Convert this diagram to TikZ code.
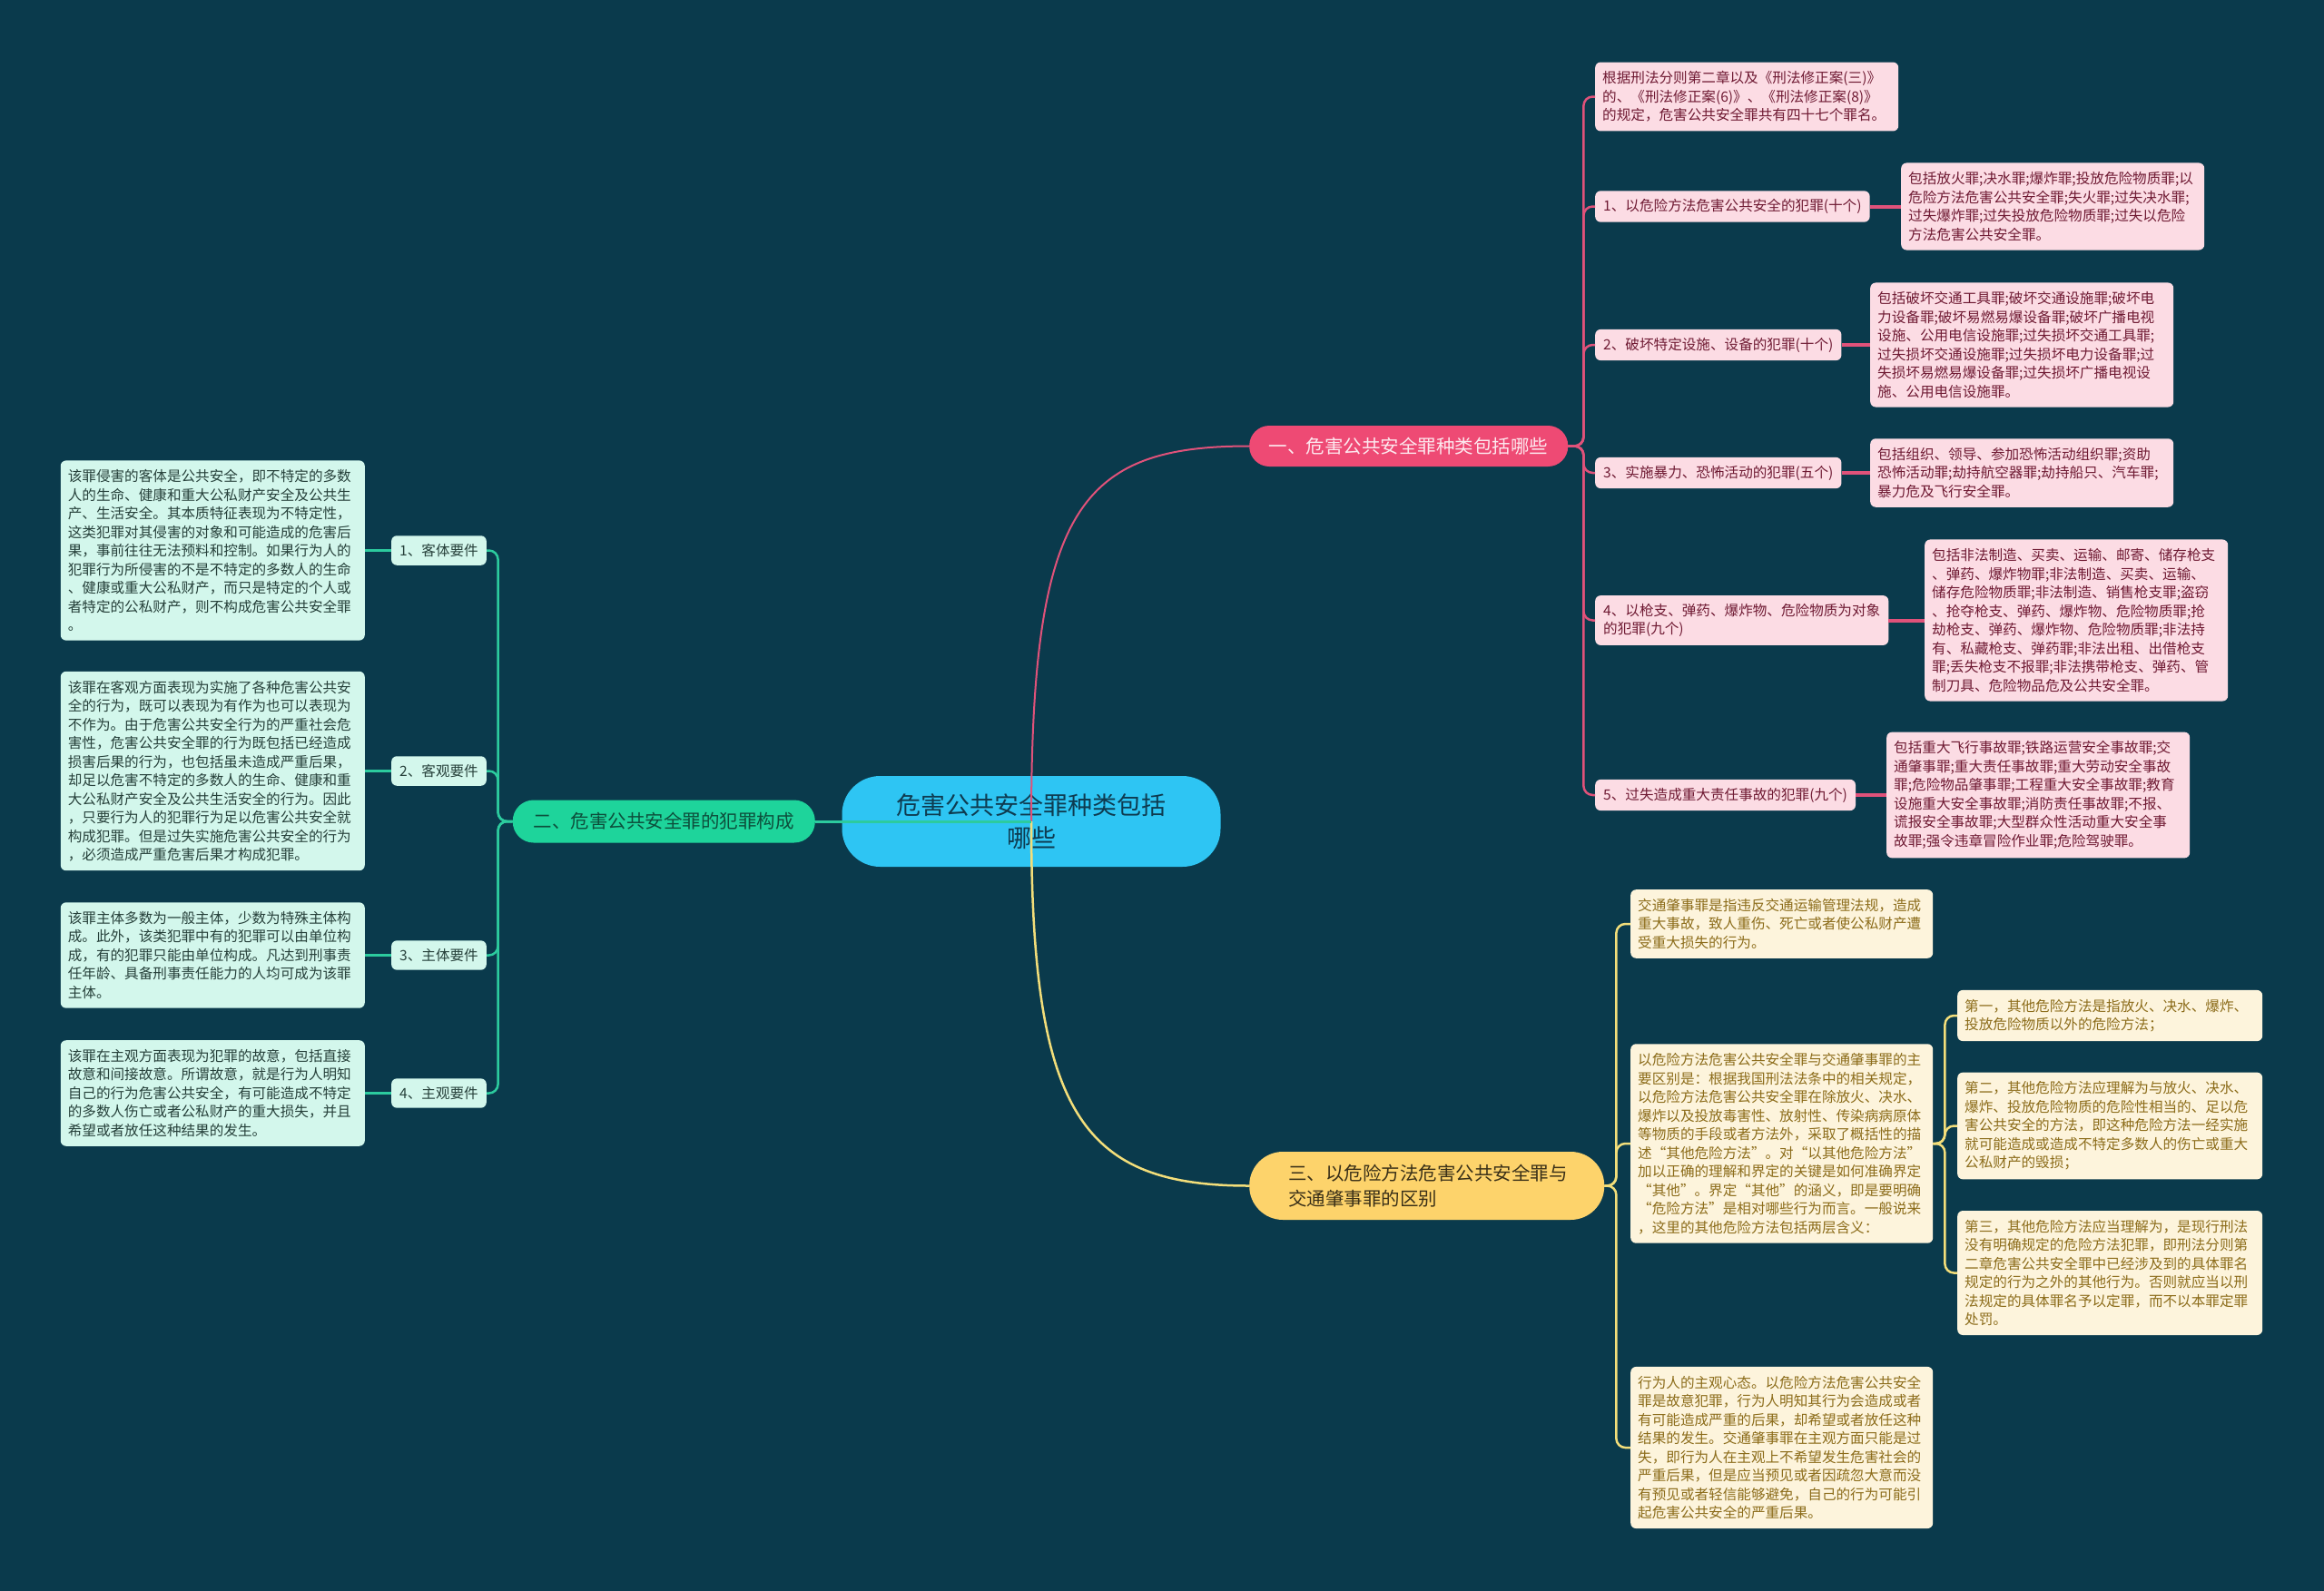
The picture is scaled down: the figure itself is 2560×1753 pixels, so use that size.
\documentclass[tikz,border=0pt]{standalone}
\usepackage{fontspec}
\setmainfont{Noto Sans CJK SC}
\definecolor{bg}{HTML}{0A3A4C}
\definecolor{cblue}{HTML}{2EC5F3}
\definecolor{ctext}{HTML}{0E3B50}
\definecolor{pinkb}{HTML}{EE4A74}
\definecolor{pinkbtext}{HTML}{FDE8EE}
\definecolor{pinkline}{HTML}{E0527A}
\definecolor{pinkfill}{HTML}{FCDCE4}
\definecolor{pinktext}{HTML}{6F1A33}
\definecolor{greenb}{HTML}{1ED49B}
\definecolor{greenbtext}{HTML}{0D4F3C}
\definecolor{greenline}{HTML}{2CCB9E}
\definecolor{greenfill}{HTML}{D3F7EC}
\definecolor{greentext}{HTML}{26403A}
\definecolor{yellowb}{HTML}{FDD36B}
\definecolor{ybtext}{HTML}{3A3018}
\definecolor{yellowline}{HTML}{F3DE7A}
\definecolor{yellowfill}{HTML}{FDF4DC}
\definecolor{yellowtext}{HTML}{8C6C1A}
\tikzset{
  leafbase/.style={rounded corners=6pt, align=left, font=\fontsize{15.6}{20.5}\selectfont, inner xsep=8pt, inner ysep=10pt},
  pleaf/.style={leafbase, fill=pinkfill, text=pinktext, text width=318pt},
  plabel/.style={leafbase, fill=pinkfill, text=pinktext, inner xsep=9pt, inner ysep=9pt},
  gleaf/.style={leafbase, fill=greenfill, text=greentext, text width=319pt},
  glabel/.style={leafbase, fill=greenfill, text=greentext, inner xsep=9pt, inner ysep=9pt},
  yleaf/.style={leafbase, fill=yellowfill, text=yellowtext, text width=317pt},
  yleafw/.style={leafbase, fill=yellowfill, text=yellowtext, text width=320pt},
  branchbox/.style={font=\fontsize{20.5}{28}\selectfont, inner xsep=20pt},
  pinkc/.style={draw=pinkline, line width=2.5pt},
  pinkthick/.style={draw=pinkline, line width=4pt},
  greenc/.style={draw=greenline, line width=2.5pt},
  greenthick/.style={draw=greenline, line width=3.5pt},
  yellowc/.style={draw=yellowline, line width=2.5pt},
}
\begin{document}
\begin{tikzpicture}[x=1pt,y=-1pt]
\path[fill=bg,use as bounding box] (0,0) rectangle (2560,1753);

% center
\node[fill=cblue, text=ctext, minimum width=417pt, minimum height=100pt, rounded corners=42pt, align=center, font=\fontsize{27}{36}\selectfont] (c) at (1136,905) {危害公共安全罪种类包括\\哪些};

% branches
\node[branchbox, fill=pinkb, text=pinkbtext, minimum width=351pt, minimum height=45pt, rounded corners=22pt, anchor=west] (b1) at (1376,491.5) {一、危害公共安全罪种类包括哪些};
\node[branchbox, fill=greenb, text=greenbtext, minimum width=333pt, minimum height=47pt, rounded corners=23pt, anchor=east] (b2) at (898,905) {二、危害公共安全罪的犯罪构成};
\node[branchbox, fill=yellowb, text=ybtext, align=left, text width=305pt, inner xsep=43pt, minimum height=75pt, rounded corners=37pt, anchor=west] (b3) at (1376,1306.5) {三、以危险方法危害公共安全罪与\\交通肇事罪的区别};

% pink children
\node[pleaf, anchor=west] (p0) at (1757,106.5) {根据刑法分则第二章以及《刑法修正案(三)》\\的、《刑法修正案(6)》、《刑法修正案(8)》\\的规定，危害公共安全罪共有四十七个罪名。};
\node[plabel, anchor=west] (p1) at (1757,227.5) {1、以危险方法危害公共安全的犯罪(十个)};
\node[plabel, anchor=west] (p2) at (1757,380) {2、破坏特定设施、设备的犯罪(十个)};
\node[plabel, anchor=west] (p3) at (1757,521) {3、实施暴力、恐怖活动的犯罪(五个)};
\node[plabel, anchor=west] (p4) at (1757,683.5) {4、以枪支、弹药、爆炸物、危险物质为对象\\的犯罪(九个)};
\node[plabel, anchor=west] (p5) at (1757,876) {5、过失造成重大责任事故的犯罪(九个)};

\node[pleaf, anchor=west] (l1) at (2094,227.5) {包括放火罪;决水罪;爆炸罪;投放危险物质罪;以\\危险方法危害公共安全罪;失火罪;过失决水罪;\\过失爆炸罪;过失投放危险物质罪;过失以危险\\方法危害公共安全罪。};
\node[pleaf, anchor=west] (l2) at (2060,380) {包括破坏交通工具罪;破坏交通设施罪;破坏电\\力设备罪;破坏易燃易爆设备罪;破坏广播电视\\设施、公用电信设施罪;过失损坏交通工具罪;\\过失损坏交通设施罪;过失损坏电力设备罪;过\\失损坏易燃易爆设备罪;过失损坏广播电视设\\施、公用电信设施罪。};
\node[pleaf, anchor=west] (l3) at (2060,521) {包括组织、领导、参加恐怖活动组织罪;资助\\恐怖活动罪;劫持航空器罪;劫持船只、汽车罪;\\暴力危及飞行安全罪。};
\node[pleaf, anchor=west] (l4) at (2120,683.5) {包括非法制造、买卖、运输、邮寄、储存枪支\\、弹药、爆炸物罪;非法制造、买卖、运输、\\储存危险物质罪;非法制造、销售枪支罪;盗窃\\、抢夺枪支、弹药、爆炸物、危险物质罪;抢\\劫枪支、弹药、爆炸物、危险物质罪;非法持\\有、私藏枪支、弹药罪;非法出租、出借枪支\\罪;丢失枪支不报罪;非法携带枪支、弹药、管\\制刀具、危险物品危及公共安全罪。};
\node[pleaf, anchor=west] (l5) at (2078,876) {包括重大飞行事故罪;铁路运营安全事故罪;交\\通肇事罪;重大责任事故罪;重大劳动安全事故\\罪;危险物品肇事罪;工程重大安全事故罪;教育\\设施重大安全事故罪;消防责任事故罪;不报、\\谎报安全事故罪;大型群众性活动重大安全事\\故罪;强令违章冒险作业罪;危险驾驶罪。};

% green children
\node[glabel, anchor=east] (g1) at (536,606.5) {1、客体要件};
\node[glabel, anchor=east] (g2) at (536,849.5) {2、客观要件};
\node[glabel, anchor=east] (g3) at (536,1052.5) {3、主体要件};
\node[glabel, anchor=east] (g4) at (536,1204.5) {4、主观要件};

\node[gleaf, anchor=east] (gl1) at (402,606.5) {该罪侵害的客体是公共安全，即不特定的多数\\人的生命、健康和重大公私财产安全及公共生\\产、生活安全。其本质特征表现为不特定性，\\这类犯罪对其侵害的对象和可能造成的危害后\\果，事前往往无法预料和控制。如果行为人的\\犯罪行为所侵害的不是不特定的多数人的生命\\、健康或重大公私财产，而只是特定的个人或\\者特定的公私财产，则不构成危害公共安全罪\\。};
\node[gleaf, anchor=east] (gl2) at (402,849.5) {该罪在客观方面表现为实施了各种危害公共安\\全的行为，既可以表现为有作为也可以表现为\\不作为。由于危害公共安全行为的严重社会危\\害性，危害公共安全罪的行为既包括已经造成\\损害后果的行为，也包括虽未造成严重后果，\\却足以危害不特定的多数人的生命、健康和重\\大公私财产安全及公共生活安全的行为。因此\\，只要行为人的犯罪行为足以危害公共安全就\\构成犯罪。但是过失实施危害公共安全的行为\\，必须造成严重危害后果才构成犯罪。};
\node[gleaf, anchor=east] (gl3) at (402,1052.5) {该罪主体多数为一般主体，少数为特殊主体构\\成。此外，该类犯罪中有的犯罪可以由单位构\\成，有的犯罪只能由单位构成。凡达到刑事责\\任年龄、具备刑事责任能力的人均可成为该罪\\主体。};
\node[gleaf, anchor=east] (gl4) at (402,1204.5) {该罪在主观方面表现为犯罪的故意，包括直接\\故意和间接故意。所谓故意，就是行为人明知\\自己的行为危害公共安全，有可能造成不特定\\的多数人伤亡或者公私财产的重大损失，并且\\希望或者放任这种结果的发生。};

% yellow children
\node[yleaf, anchor=west] (y1) at (1796,1018) {交通肇事罪是指违反交通运输管理法规，造成\\重大事故，致人重伤、死亡或者使公私财产遭\\受重大损失的行为。};
\node[yleaf, anchor=west] (y2) at (1796,1260) {以危险方法危害公共安全罪与交通肇事罪的主\\要区别是：根据我国刑法法条中的相关规定，\\以危险方法危害公共安全罪在除放火、决水、\\爆炸以及投放毒害性、放射性、传染病病原体\\等物质的手段或者方法外，采取了概括性的描\\述“其他危险方法”。对“以其他危险方法”\\加以正确的理解和界定的关键是如何准确界定\\“其他”。界定“其他”的涵义，即是要明确\\“危险方法”是相对哪些行为而言。一般说来\\，这里的其他危险方法包括两层含义：};
\node[yleaf, anchor=west] (y3) at (1796,1595) {行为人的主观心态。以危险方法危害公共安全\\罪是故意犯罪，行为人明知其行为会造成或者\\有可能造成严重的后果，却希望或者放任这种\\结果的发生。交通肇事罪在主观方面只能是过\\失，即行为人在主观上不希望发生危害社会的\\严重后果，但是应当预见或者因疏忽大意而没\\有预见或者轻信能够避免，自己的行为可能引\\起危害公共安全的严重后果。};

\node[yleafw, anchor=west] (yg1) at (2156,1119) {第一，其他危险方法是指放火、决水、爆炸、\\投放危险物质以外的危险方法；};
\node[yleafw, anchor=west] (yg2) at (2156,1240.5) {第二，其他危险方法应理解为与放火、决水、\\爆炸、投放危险物质的危险性相当的、足以危\\害公共安全的方法，即这种危险方法一经实施\\就可能造成或造成不特定多数人的伤亡或重大\\公私财产的毁损；};
\node[yleafw, anchor=west] (yg3) at (2156,1402.5) {第三，其他危险方法应当理解为，是现行刑法\\没有明确规定的危险方法犯罪，即刑法分则第\\二章危害公共安全罪中已经涉及到的具体罪名\\规定的行为之外的其他行为。否则就应当以刑\\法规定的具体罪名予以定罪，而不以本罪定罪\\处罚。};

% connectors from center
\draw[pinkc, line width=2pt] (c.center) .. controls +(0,-345) and +(-186,0) .. (b1.west);
\draw[yellowc] (c.center) .. controls +(0,320) and +(-186,0) .. (b3.west);
\draw[greenc, line width=3pt] (c.center) -- (b2.east);

% pink trunk
\foreach \n in {p0,p1,p2,p3,p4,p5}
  \draw[pinkc, rounded corners=10pt] (b1.east) -- ++(17,0) |- (\n.west);
\foreach \a/\b in {p1/l1,p2/l2,p3/l3,p4/l4,p5/l5}
  \draw[pinkthick] (\a.east) -- (\b.west);

% green trunk
\foreach \n in {g1,g2,g3,g4}
  \draw[greenc, rounded corners=10pt] (b2.west) -- ++(-16,0) |- (\n.east);
\foreach \a/\b in {g1/gl1,g2/gl2,g3/gl3,g4/gl4}
  \draw[greenthick] (\a.west) -- (\b.east);

% yellow trunk
\foreach \n in {y1,y2,y3}
  \draw[yellowc, rounded corners=10pt] (b3.east) -- ++(13,0) |- (\n.west);
\foreach \n in {yg1,yg2,yg3}
  \draw[yellowc, rounded corners=10pt] (y2.east) -- ++(13,0) |- (\n.west);
\end{tikzpicture}
\end{document}
